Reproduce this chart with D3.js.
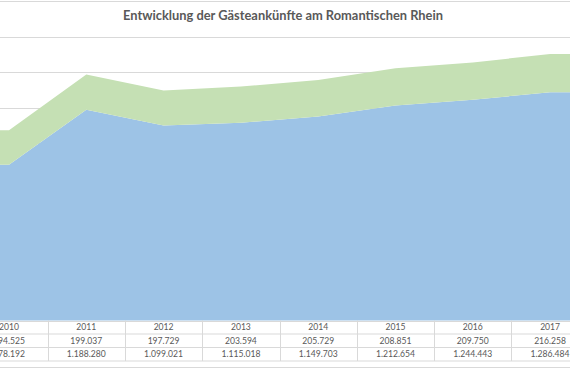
<!DOCTYPE html>
<html><head><meta charset="utf-8">
<script src="https://cdn.jsdelivr.net/npm/d3@7"></script>
<style>html,body{margin:0;padding:0;background:#fff;overflow:hidden}</style>
</head><body>
<svg id="c" width="570" height="368"></svg>
<script>
const years = ["2010","2011","2012","2013","2014","2015","2016","2017"];
const seriesTop = [194525,199037,197729,203594,205729,208851,209750,216258];       // green, row 1
const seriesBottom = [878192,1188280,1099021,1115018,1149703,1212654,1244443,1286484]; // blue, row 2
const yTicks = [0,200000,400000,600000,800000,1000000,1200000,1400000,1600000,1800000];
const title = "Entwicklung der Gästeankünfte am Romantischen Rhein";

const svg = d3.select("#c");
const W = 570;
const plotLeft = -29.65, plotRight = 588.75;
const yBase = 320.5, yTop = 1.2;
const tableRows = [320.5, 334, 347.5, 361];

const x = d3.scaleBand().domain(years).range([plotLeft, plotRight]);
const cx = d => x(d) + x.bandwidth()/2;
const y = d3.scaleLinear().domain([0, 1800000]).range([yBase, yTop]);

// gridlines
svg.append("g").selectAll("line").data(yTicks).join("line")
  .attr("x1", 0).attr("x2", W)
  .attr("y1", d => Math.round(y(d)) + 0.5).attr("y2", d => Math.round(y(d)) + 0.5)
  .attr("stroke", "#d9d9d9").attr("stroke-width", 1);

// stacked data
const rows = years.map((yr, i) => ({year: yr, bottom: seriesBottom[i], top: seriesTop[i]}));
const stack = d3.stack().keys(["bottom", "top"])(rows);
const colors = {bottom: "#9dc3e6", top: "#c5e0b4"};

stack.forEach(layer => {
  const pts = layer.map(p => ({x: cx(p.data.year), y0: p[0], y1: p[1]}));
  const ext = [{x: plotLeft, y0: pts[0].y0, y1: pts[0].y1}, ...pts,
               {x: plotRight, y0: pts[pts.length-1].y0, y1: pts[pts.length-1].y1}];
  const area = d3.area().x(d => d.x).y0(d => y(d.y0)).y1(d => y(d.y1));
  svg.append("path").datum(ext).attr("d", area).attr("fill", colors[layer.key]);
});

// data table
const loc = d3.formatLocale({decimal: ",", thousands: ".", grouping: [3], currency: ["", "€"]});
const fmt = loc.format(",d");
const tg = svg.append("g");
tableRows.slice(1).forEach(yy => {
  tg.append("line").attr("x1", 0).attr("x2", W).attr("y1", yy).attr("y2", yy)
    .attr("stroke", "#d9d9d9").attr("stroke-width", 1);
});
tg.append("line").attr("x1", 0).attr("x2", W).attr("y1", 367.5).attr("y2", 367.5)
  .attr("stroke", "#d9d9d9").attr("stroke-width", 1);
tg.selectAll("line.v").data(years).join("line").attr("class", "v")
  .attr("x1", d => Math.round(x(d) + x.bandwidth()) + 0.5)
  .attr("x2", d => Math.round(x(d) + x.bandwidth()) + 0.5)
  .attr("y1", tableRows[0]).attr("y2", tableRows[3])
  .attr("stroke", "#d9d9d9").attr("stroke-width", 1);

const tableData = [years, seriesTop.map(fmt), seriesBottom.map(fmt)];
tableData.forEach((row, r) => {
  const yc = (tableRows[r] + tableRows[r+1]) / 2;
  tg.selectAll(null).data(row).join("text")
    .attr("x", (d, i) => cx(years[i]))
    .attr("y", yc + 3)
    .attr("text-anchor", "middle")
    .attr("font-family", "Lato, 'Open Sans', sans-serif")
    .attr("font-size", "8.6px")
    .attr("fill", "#595959")
    .text(d => d);
});

// title
const t = svg.append("text").attr("x", 283).attr("y", 20.3)
  .attr("text-anchor", "middle")
  .attr("font-family", "Lato, 'Open Sans', sans-serif")
  .attr("font-weight", "bold").attr("font-size", "12.5px")
  .attr("fill", "#595959").text(title);
const tw = t.node().getComputedTextLength();
t.attr("font-size", (12.5 * 320 / tw).toFixed(2) + "px");
</script>
</body></html>
